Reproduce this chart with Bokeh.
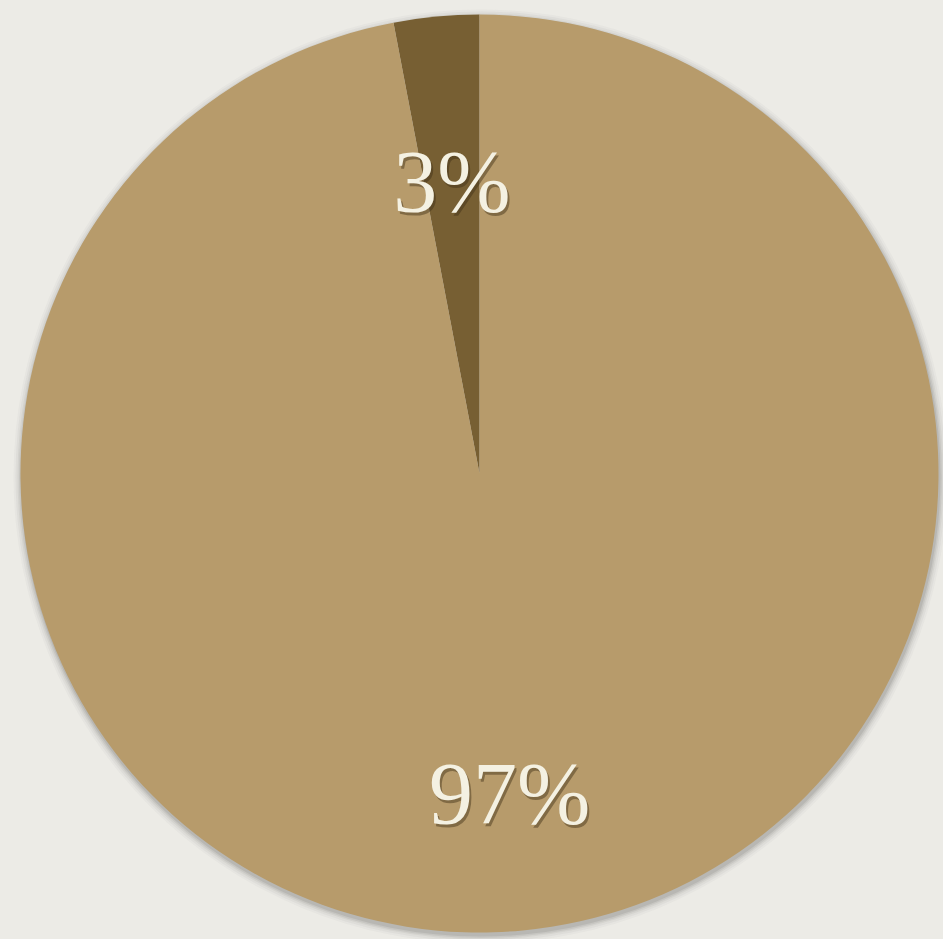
import numpy as np
from bokeh.plotting import figure
from bokeh.models import ColumnDataSource
from bokeh.core.properties import value
from bokeh.embed import file_html
from bokeh.resources import INLINE

labels = ["3%", "97%"]
shares = [3, 97]
colors = ["#775f33", "#b79b6b"]

W, H = 943, 939
cx, cy, R = 479, 466, 459
label_frac = [0.64, 0.70]

p = figure(width=W, height=H, x_range=(0, W), y_range=(0, H),
           output_backend="svg", toolbar_location=None, min_border=0)
p.axis.visible = False
p.grid.visible = False
p.outline_line_color = None
p.background_fill_color = "#ecebe6"
p.border_fill_color = "#ecebe6"

# soft shadow around pie
for dr, a in [(8, 0.04), (6, 0.06), (4, 0.08), (2.5, 0.11), (1, 0.15)]:
    p.circle(x=[cx + 1], y=[cy - 3], radius=R + dr, fill_color="#66665f",
             fill_alpha=a, line_color=None)

tot = float(sum(shares))
fr = np.array(shares) / tot
ends = np.pi / 2 + 2 * np.pi * np.cumsum(fr)
starts = np.concatenate([[np.pi / 2], ends[:-1]])
mids = (starts + ends) / 2

src = ColumnDataSource(dict(start=starts, end=ends, color=colors))
p.wedge(x=cx, y=cy, radius=R, start_angle="start", end_angle="end",
        direction="anticlock", fill_color="color", line_color=None, source=src)

lx = cx + np.array(label_frac) * R * np.cos(mids)
ly = cy + np.array(label_frac) * R * np.sin(mids)
tsrc = ColumnDataSource(dict(x=lx, y=ly, t=labels))
tsh = ColumnDataSource(dict(x=lx + 2, y=ly - 3, t=labels))
p.text(x="x", y="y", text="t", source=tsh, text_font=value("Liberation Serif"),
       text_font_size="88px", text_align="center", text_baseline="middle",
       text_color="#3d2f17", text_alpha=0.45)
p.text(x="x", y="y", text="t", source=tsrc, text_font=value("Liberation Serif"),
       text_font_size="88px", text_align="center", text_baseline="middle",
       text_color="#f4f1e2")

html = file_html(p, INLINE)
html = html.replace("<head>", "<head><style>html,body{margin:0;padding:0;overflow:hidden;background:#ecebe6}</style>", 1)
open("out.html", "w").write(html)
